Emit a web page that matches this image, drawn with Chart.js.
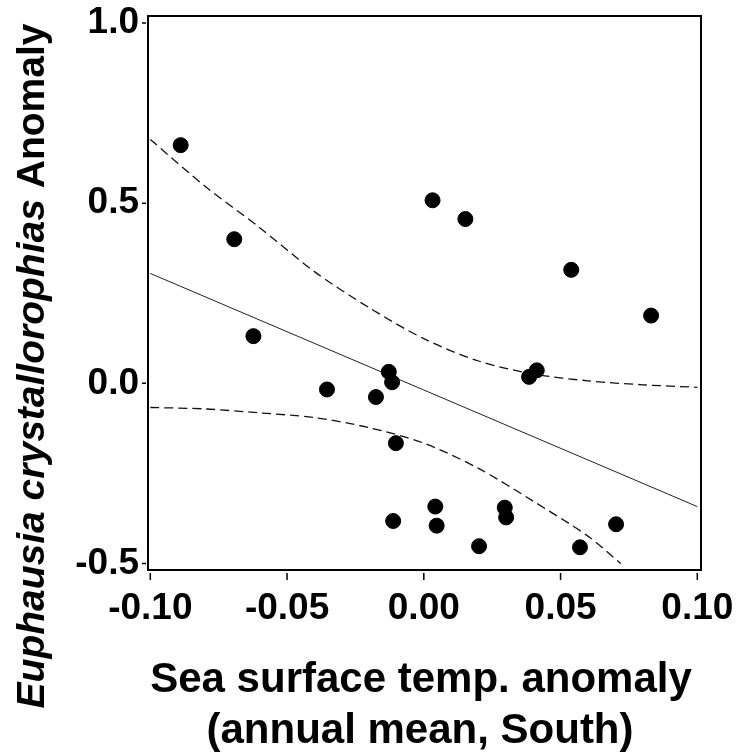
<!DOCTYPE html>
<html>
<head>
<meta charset="utf-8">
<script src="https://cdn.jsdelivr.net/npm/chart.js@4.4.1/dist/chart.umd.min.js"></script>
<style>
  html, body { margin: 0; padding: 0; background: #fff; }
</style>
</head>
<body>
<canvas id="chart" width="739" height="755"></canvas>
<script>
// scatter points: SST anomaly vs krill anomaly
const sstAnomaly = [-0.0889, -0.0693, -0.0623, -0.0354, -0.0175, -0.0128, -0.0116, -0.0102, -0.0112,
  0.0032, 0.0152, 0.0042, 0.0047, 0.0202, 0.0296, 0.0301, 0.0385, 0.0413, 0.0539, 0.0571, 0.0703, 0.0831];
const krillAnomaly = [0.661, 0.400, 0.131, -0.017, -0.038, 0.032, 0.003, -0.166, -0.382,
  0.508, 0.456, -0.342, -0.395, -0.452, -0.345, -0.372, 0.018, 0.036, 0.315, -0.455, -0.391, 0.188];

// regression line
const fitX = [-0.10, 0.10];
const fitY = [0.305, -0.342];

// confidence bands
const upperX = [-0.10, -0.08, -0.06, -0.04, -0.02, 0.00, 0.02, 0.04, 0.06, 0.08, 0.10];
const upperY = [0.677, 0.547, 0.432, 0.310, 0.210, 0.124, 0.062, 0.026, 0.007, -0.004, -0.011];
const lowerX = [-0.10, -0.08, -0.06, -0.04, -0.02, 0.00, 0.02, 0.04, 0.06, 0.072];
const lowerY = [-0.067, -0.071, -0.082, -0.095, -0.123, -0.166, -0.236, -0.327, -0.424, -0.50];

const xTicks = [-0.10, -0.05, 0.00, 0.05, 0.10];
const yTicks = [-0.5, 0.0, 0.5, 1.0];

const FONT = '"Liberation Sans", Arial, Helvetica, sans-serif';

function pairs(xs, ys) {
  return xs.map((v, i) => ({ x: v, y: ys[i] }));
}

function noPadding(s) {
  s.paddingLeft = 0;
  s.paddingRight = 0;
  s.paddingTop = 0;
  s.paddingBottom = 0;
}

// Frame, tick marks and axis titles
const framePlugin = {
  id: 'frame',
  afterDraw(chart) {
    const { ctx, chartArea: a, scales: { x, y } } = chart;
    ctx.save();
    ctx.strokeStyle = '#000';
    ctx.lineWidth = 2;
    ctx.strokeRect(a.left, a.top, a.right - a.left, a.bottom - a.top);

    ctx.lineWidth = 1.5;
    ctx.beginPath();
    xTicks.forEach(v => {
      const px = x.getPixelForValue(v);
      ctx.moveTo(px, a.bottom + 3);
      ctx.lineTo(px, a.bottom + 10);
    });
    yTicks.forEach(v => {
      const py = y.getPixelForValue(v);
      ctx.moveTo(a.left - 6, py);
      ctx.lineTo(a.left - 2, py);
    });
    ctx.stroke();

    // x title, two lines
    ctx.fillStyle = '#000';
    ctx.font = 'bold 42px ' + FONT;
    ctx.textAlign = 'center';
    ctx.textBaseline = 'alphabetic';
    ctx.fillText('Sea surface temp. anomaly', 421, 692);
    ctx.fillText('(annual mean, South)', 420, 743);

    // y title, italic species name + plain word
    const part1 = 'Euphausia crystallorophias ';
    const part2 = 'Anomaly';
    const italic = 'italic bold 39px ' + FONT;
    const bold = 'bold 39px ' + FONT;
    ctx.font = italic;
    const w1 = ctx.measureText(part1).width;
    ctx.font = bold;
    const w2 = ctx.measureText(part2).width;
    ctx.translate(44, 366);
    ctx.rotate(-Math.PI / 2);
    ctx.textAlign = 'left';
    const start = -(w1 + w2) / 2;
    ctx.font = italic;
    ctx.fillText(part1, start, 0);
    ctx.font = bold;
    ctx.fillText(part2, start + w1, 0);
    ctx.restore();
  }
};

const ctx = document.getElementById('chart').getContext('2d');
const chart = new Chart(ctx, {
  type: 'scatter',
  data: {
    datasets: [
      {
        data: pairs(sstAnomaly, krillAnomaly),
        backgroundColor: '#000',
        borderColor: '#000',
        pointRadius: 7.5,
        pointHoverRadius: 7.5,
      },
      {
        data: pairs(fitX, fitY),
        showLine: true,
        borderColor: '#222',
        borderWidth: 1,
        pointRadius: 0,
      },
      {
        data: pairs(upperX, upperY),
        showLine: true,
        borderColor: '#111',
        borderWidth: 1.3,
        borderDash: [9, 5],
        pointRadius: 0,
        tension: 0.3,
      },
      {
        data: pairs(lowerX, lowerY),
        showLine: true,
        borderColor: '#111',
        borderWidth: 1.3,
        borderDash: [9, 5],
        pointRadius: 0,
        tension: 0.3,
      },
    ],
  },
  options: {
    responsive: false,
    animation: false,
    layout: { padding: { left: 0, top: 16, right: 38, bottom: 0 } },
    plugins: {
      legend: { display: false },
      tooltip: { enabled: false },
    },
    scales: {
      x: {
        type: 'linear',
        min: -0.10084,
        max: 0.10135,
        afterBuildTicks: s => { s.ticks = xTicks.map(v => ({ value: v })); },
        afterFit: s => { s.height = 185; noPadding(s); },
        grid: { display: false, drawTicks: false },
        border: { display: false },
        ticks: {
          padding: 17,
          color: '#000',
          font: { family: FONT, size: 37, weight: 'bold' },
          callback: v => v.toFixed(2),
          maxRotation: 0,
          autoSkip: false,
        },
      },
      y: {
        type: 'linear',
        min: -0.518,
        max: 1.0194,
        afterBuildTicks: s => { s.ticks = yTicks.map(v => ({ value: v })); },
        afterFit: s => { s.width = 148; noPadding(s); },
        grid: { display: false, drawTicks: false },
        border: { display: false },
        ticks: {
          padding: 9,
          color: '#000',
          font: { family: FONT, size: 37, weight: 'bold' },
          callback: v => v.toFixed(1),
          autoSkip: false,
        },
      },
    },
  },
  plugins: [framePlugin],
});
</script>
</body>
</html>
